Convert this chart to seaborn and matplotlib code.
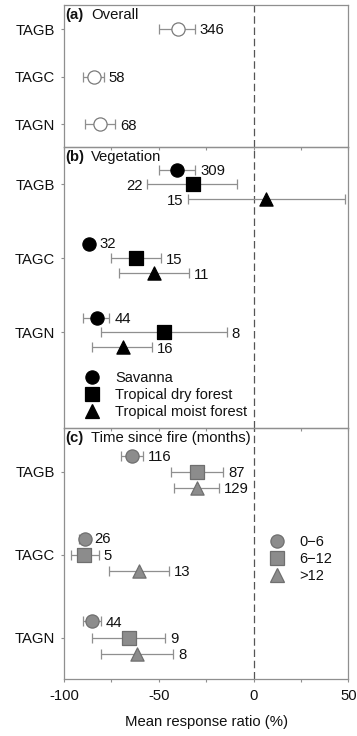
import matplotlib
matplotlib.use("Agg")
import matplotlib.pyplot as plt
from matplotlib.lines import Line2D
import seaborn as sns
import numpy as np
import pandas as pd

sns.set_style("white")
plt.rcParams['font.family'] = ['Liberation Sans', 'DejaVu Sans']

# ---------------- data ----------------
variables = ["TAGB", "TAGC", "TAGN"]

# (a) Overall
overall_mean = [-40, -84, -81]
overall_lo = [-50, -90, -89]
overall_hi = [-31, -79, -73]
overall_n = [346, 58, 68]

# (b) Vegetation
veg_groups = ["Savanna", "Tropical dry forest", "Tropical moist forest"]
sav_mean = [-40.5, -86.6, -82.7]
sav_lo = [-49.8, -88.0, -90.0]
sav_hi = [-30.8, -85.2, -76.0]
sav_n = [309, 32, 44]
dry_mean = [-32, -62, -47]
dry_lo = [-56, -75, -80.5]
dry_hi = [-8.5, -49, -14]
dry_n = [22, 15, 8]
moist_mean = [6.5, -52.5, -69]
moist_lo = [-34.7, -71, -85]
moist_hi = [48, -34, -53.5]
moist_n = [15, 11, 16]

# (c) Time since fire (months)
time_groups = ["0\u22126", "6\u221212", ">12"]
t1_mean = [-64, -89, -85]
t1_lo = [-70, -92, -90]
t1_hi = [-58.5, -87.5, -80.5]
t1_n = [116, 26, 44]
t2_mean = [-30, -89.5, -65.5]
t2_lo = [-43.5, -96.5, -85]
t2_hi = [-16, -81.5, -46.5]
t2_n = [87, 5, 9]
t3_mean = [-30, -60.5, -61.3]
t3_lo = [-42, -76.5, -80.5]
t3_hi = [-18, -44.5, -42.3]
t3_n = [129, 13, 8]

xticks = [-100, -75, -50, -25, 0, 25, 50]
xticklabels = ["-100", "", "-50", "", "0", "", "50"]
xlabel = "Mean response ratio (%)"

# ---------------- style ----------------
FS = 10.7
FS_LEG = 10.5
SPINE = "#8f8f8f"
ERR = "#8f8f8f"
MS = 9.5

fig = plt.figure(figsize=(3.57, 7.36), dpi=100)
L, R = 64 / 357, 348.3 / 357
def fy(px):
    return 1 - px / 736

ax_a = fig.add_axes([L, fy(147), R - L, fy(5) - fy(147)])
ax_b = fig.add_axes([L, fy(428), R - L, fy(147) - fy(428)])
ax_c = fig.add_axes([L, fy(679), R - L, fy(428) - fy(679)])


def draw(ax, means, lo, hi, ns, offset, marker, face, edge, left_idx=()):
    ypos = np.arange(len(means)) + offset
    means = np.asarray(means, float)
    lo = np.asarray(lo, float)
    hi = np.asarray(hi, float)
    ax.errorbar(means, ypos, xerr=[means - lo, hi - means], fmt="none",
                ecolor=ERR, elinewidth=0.9, capsize=3.5, capthick=0.9, zorder=2)
    df = pd.DataFrame({"mean": means, "y": ypos})
    sns.scatterplot(data=df, x="mean", y="y", ax=ax, marker=marker,
                    s=MS ** 2, color=face, edgecolor=edge, linewidth=0.9,
                    zorder=3, legend=False)
    for i, (m, l, h, n, y) in enumerate(zip(means, lo, hi, ns, ypos)):
        if i in left_idx:
            ax.annotate(str(n), xy=(l, y), xytext=(-3.5, -1), textcoords="offset points",
                        ha="right", va="center", fontsize=FS, color="#111111")
        elif h - m < 3.5:
            ax.annotate(str(n), xy=(m, y), xytext=(7, 0), textcoords="offset points",
                        ha="left", va="center", fontsize=FS, color="#111111")
        else:
            ax.annotate(str(n), xy=(h, y), xytext=(3.5, -1), textcoords="offset points",
                        ha="left", va="center", fontsize=FS, color="#111111")


# (a)
draw(ax_a, overall_mean, overall_lo, overall_hi, overall_n, 0.0, "o", "white", "#7a7a7a")

# (b)
off_b = 0.2
draw(ax_b, sav_mean, sav_lo, sav_hi, sav_n, -off_b, "o", "black", "black")
draw(ax_b, dry_mean, dry_lo, dry_hi, dry_n, 0.0, "s", "black", "black", left_idx=(0,))
draw(ax_b, moist_mean, moist_lo, moist_hi, moist_n, off_b, "^", "black", "black", left_idx=(0,))

# (c)
off_c = 0.195
GF, GE = "#8c8c8c", "#6f6f6f"
draw(ax_c, t1_mean, t1_lo, t1_hi, t1_n, -off_c, "o", GF, GE)
draw(ax_c, t2_mean, t2_lo, t2_hi, t2_n, 0.0, "s", GF, GE)
draw(ax_c, t3_mean, t3_lo, t3_hi, t3_n, off_c, "^", GF, GE)

for ax in (ax_a, ax_b, ax_c):
    ax.patch.set_visible(False)
    ax.set_xlim(-100, 50)
    ax.set_yticks(range(len(variables)))
    ax.set_yticklabels(variables, fontsize=FS, color="#111111")
    ax.set_xticks(xticks)
    for s in ax.spines.values():
        s.set_color(SPINE)
        s.set_linewidth(0.9)
    ax.tick_params(axis="both", direction="out", length=2.5, width=0.8,
                   color=SPINE, pad=4, left=True, bottom=True)
    ax.axvline(0, ls=(0, (6, 3)), color="#555555", lw=0.9, zorder=1)
    ax.set_ylabel("")
    ax.set_xlabel("")

ax_a.set_ylim(2.48, -0.505)
ax_b.set_ylim(3.29, -0.505)
ax_c.set_ylim(2.5, -0.53)
ax_a.set_xticklabels([])
ax_b.set_xticklabels([])
ax_c.set_xticklabels(xticklabels, fontsize=FS, color="#111111")
ax_c.tick_params(axis="x", pad=5)
ax_c.set_xlabel(xlabel, fontsize=FS, labelpad=8, color="#111111")

# panel titles
for ax, tag, title in ((ax_a, "(a)", "Overall"), (ax_b, "(b)", "Vegetation"),
                       (ax_c, "(c)", "Time since fire (months)")):
    ax.annotate(tag, xy=(0, 1), xycoords="axes fraction", xytext=(1.2, -2.5),
                textcoords="offset points", ha="left", va="top",
                fontsize=FS, fontweight="bold", color="#111111")
    ax.annotate(title, xy=(0, 1), xycoords="axes fraction", xytext=(19.5, -2.5),
                textcoords="offset points", ha="left", va="top",
                fontsize=FS, color="#111111")

# legends
def handles(face, edge):
    return [Line2D([], [], ls="", marker=m, markersize=MS, markerfacecolor=face,
                   markeredgecolor=edge, markeredgewidth=0.9) for m in ("o", "s", "^")]

leg_b = ax_b.legend(handles("black", "black"), veg_groups, loc="upper left",
                    bbox_to_anchor=(0.072, 0.202), frameon=False, fontsize=FS_LEG,
                    handlelength=1.0, handletextpad=1.1, labelspacing=0.2,
                    borderpad=0, borderaxespad=0)
for t in leg_b.get_texts():
    t.set_color("#111111")
leg_c = ax_c.legend(handles(GF, GE), time_groups, loc="upper left",
                    bbox_to_anchor=(0.724, 0.574), frameon=False, fontsize=FS_LEG,
                    handlelength=1.0, handletextpad=1.0, labelspacing=0.2,
                    borderpad=0, borderaxespad=0)
for t in leg_c.get_texts():
    t.set_color("#111111")

fig.savefig("out.png", dpi=100)
